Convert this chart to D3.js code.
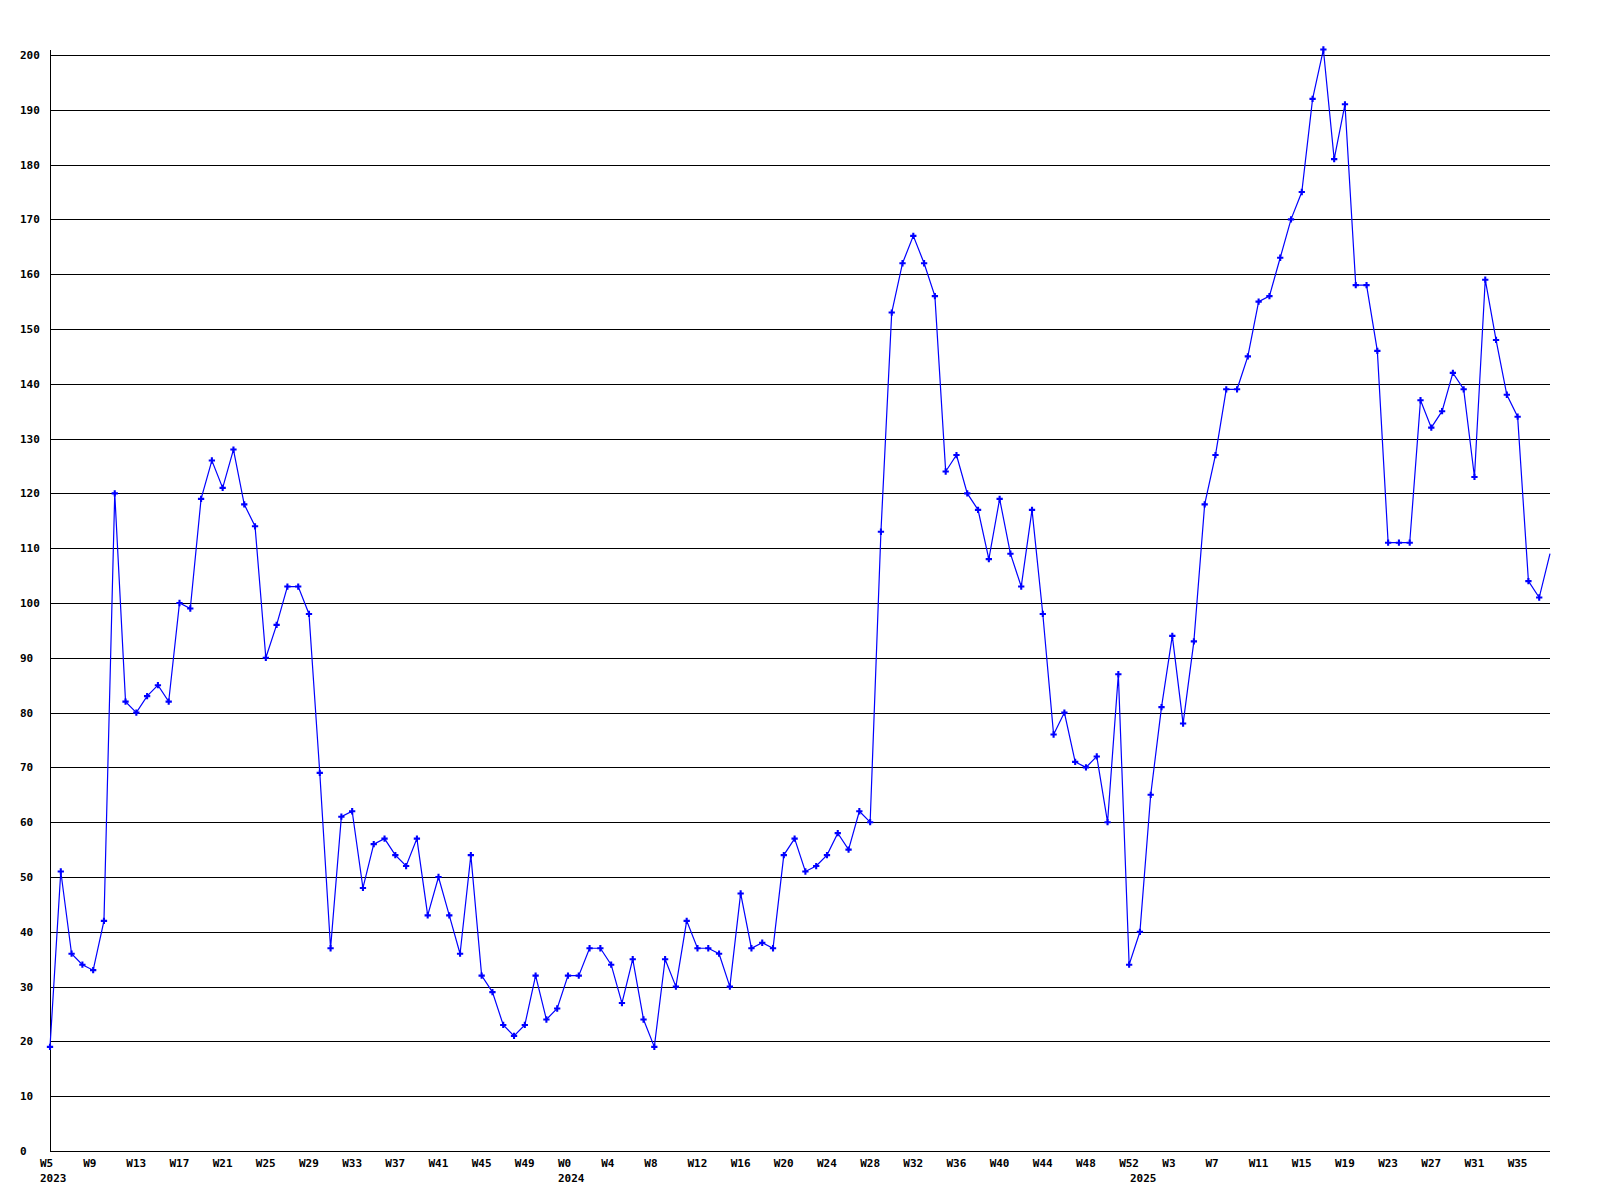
<!DOCTYPE html>
<html>
<head>
<meta charset="utf-8">
<script src="https://cdn.jsdelivr.net/npm/d3@7"></script>
<style>
  body { margin: 0; background: #fff; }
  text { font-family: "DejaVu Sans Mono", monospace; font-size: 11px; font-weight: bold; fill: #000; }
</style>
</head>
<body>
<svg width="1600" height="1200"></svg>
<script>
// weekly values, one array per year
var years = [2023, 2024, 2025];
var firstWeek = [5, 0, 0];
var values2023 = [19, 51, 36, 34, 33, 42, 120, 82, 80, 83, 85, 82, 100, 99, 119, 126, 121, 128, 118, 114, 90, 96, 103, 103, 98, 69, 37, 61, 62, 48, 56, 57, 54, 52, 57, 43, 50, 43, 36, 54, 32, 29, 23, 21, 23, 32, 24, 26];
var values2024 = [32, 32, 37, 37, 34, 27, 35, 24, 19, 35, 30, 42, 37, 37, 36, 30, 47, 37, 38, 37, 54, 57, 51, 52, 54, 58, 55, 62, 60, 113, 153, 162, 167, 162, 156, 124, 127, 120, 117, 108, 119, 109, 103, 117, 98, 76, 80, 71, 70, 72, 60, 87, 34];
var values2025 = [40, 65, 81, 94, 78, 93, 118, 127, 139, 139, 145, 155, 156, 163, 170, 175, 192, 201, 181, 191, 158, 158, 146, 111, 111, 111, 137, 132, 135, 142, 139, 123, 159, 148, 138, 134, 104, 101, 109];
var yTicks = [0, 10, 20, 30, 40, 50, 60, 70, 80, 90, 100, 110, 120, 130, 140, 150, 160, 170, 180, 190, 200];

var data = [];
[values2023, values2024, values2025].forEach(function(vals, yi) {
	vals.forEach(function(v, i) {
		data.push({ key: years[yi] + '-W' + (firstWeek[yi] + i), year: years[yi], week: firstWeek[yi] + i, first: i == 0, value: v });
	});
});

let svg = d3.select('svg');

let x = d3.scalePoint().domain(data.map((d) => d.key)).range([50, 1550]);
let y = d3.scaleLinear().domain([0, 200]).range([1151, 55]);

// grid lines + y labels
svg.selectAll('.grid')
	.data(yTicks)
	.enter()
	.append('line')
	.attr('class', 'grid')
	.attr('x1', 50)
	.attr('x2', 1550)
	.attr('y1', (d) => Math.round(y(d)) + 0.5)
	.attr('y2', (d) => Math.round(y(d)) + 0.5)
	.attr('stroke', '#000')
	.attr('stroke-width', 1);

svg.selectAll('.ylab')
	.data(yTicks)
	.enter()
	.append('text')
	.attr('class', 'ylab')
	.attr('x', 20)
	.attr('y', (d) => Math.round(y(d)) + 4)
	.text((d) => d);

// y axis line
svg.append('line')
	.attr('x1', 50.5).attr('x2', 50.5)
	.attr('y1', 50).attr('y2', Math.round(y(0)) + 1)
	.attr('stroke', '#000');

// x labels: every 4th week, year under the first week of each year
svg.selectAll('.xlab')
	.data(data.filter((d, i) => i % 4 == 0))
	.enter()
	.append('text')
	.attr('class', 'xlab')
	.attr('x', (d) => x(d.key) - 10)
	.attr('y', 1167)
	.text((d) => 'W' + d.week);

svg.selectAll('.yearlab')
	.data(data.filter((d) => d.first))
	.enter()
	.append('text')
	.attr('class', 'yearlab')
	.attr('x', (d) => x(d.key) - 10)
	.attr('y', 1182)
	.text((d) => d.year);

// the series
var line = d3.line().x((d) => x(d.key)).y((d) => y(d.value));

svg.append('path')
	.datum(data)
	.attr('d', line)
	.attr('fill', 'none')
	.attr('stroke', '#0000ff')
	.attr('stroke-width', 1.2);

svg.selectAll('.pt')
	.data(data.slice(0, data.length - 1))
	.enter()
	.append('path')
	.attr('class', 'pt')
	.attr('d', d3.symbol(d3.symbolCross, 22))
	.attr('transform', (d) => 'translate(' + x(d.key) + ',' + y(d.value) + ')')
	.attr('fill', '#0000ff');
</script>
</body>
</html>
